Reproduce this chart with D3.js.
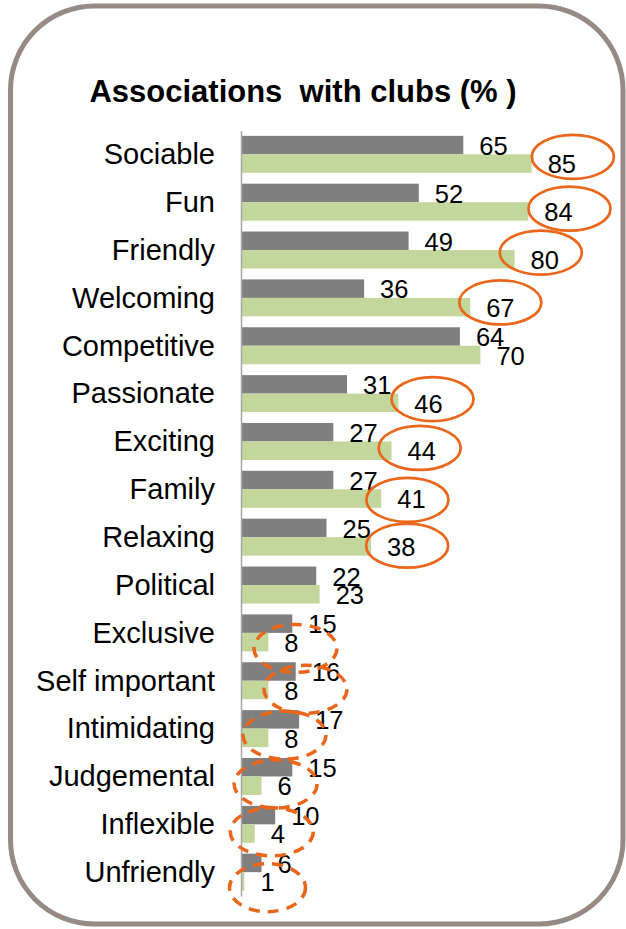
<!DOCTYPE html>
<html>
<head>
<meta charset="utf-8">
<script src="https://cdn.jsdelivr.net/npm/d3@7/dist/d3.min.js"></script>
<style>
  html, body { margin: 0; padding: 0; background: #fff; }
  svg { display: block; font-family: "Liberation Sans", Arial, sans-serif; }
</style>
</head>
<body>
<svg id="chart" width="626" height="929"></svg>
<script>
// Share of respondents associating each word with clubs (%)
const categories = ["Sociable", "Fun", "Friendly", "Welcoming", "Competitive", "Passionate",
  "Exciting", "Family", "Relaxing", "Political", "Exclusive", "Self important",
  "Intimidating", "Judgemental", "Inflexible", "Unfriendly"];
const greyValues  = [65, 52, 49, 36, 64, 31, 27, 27, 25, 22, 15, 16, 17, 15, 10, 6];
const greenValues = [85, 84, 80, 67, 70, 46, 44, 41, 38, 23, 8, 8, 8, 6, 4, 1];
const seriesKeys = ["grey", "green"];

// Hand-drawn rings around the green value labels (nudge from the label centre)
const ringsSolid = [
  { cat: "Sociable", dx: 11, dy: -7 }, { cat: "Fun", dx: 11, dy: -3 },
  { cat: "Friendly", dx: -4, dy: -7 }, { cat: "Welcoming", dx: 0, dy: -5 },
  { cat: "Passionate", dx: 4, dy: -4 }, { cat: "Exciting", dx: -2, dy: -3 },
  { cat: "Family", dx: -4, dy: 1 }, { cat: "Relaxing", dx: 6, dy: -1 }
];
const ringsDashed = [
  { cat: "Exclusive", dx: 4, dy: 6 }, { cat: "Self important", dx: 14, dy: -1 },
  { cat: "Intimidating", dx: -7, dy: -3 }, { cat: "Judgemental", dx: -9, dy: -2 },
  { cat: "Inflexible", dx: -6, dy: -2 }, { cat: "Unfriendly", dx: 0, dy: 6 }
];

const colors = { grey: "#7f7f7f", green: "#c3d69b" };
const ringColor = "#e9661a";

const svg = d3.select("#chart");

// Rounded frame
svg.append("rect")
  .attr("x", 10.5).attr("y", 6)
  .attr("width", 612.5).attr("height", 918)
  .attr("rx", 84).attr("ry", 84)
  .attr("fill", "#fff")
  .attr("stroke", "#978a84")
  .attr("stroke-width", 5);

// Title
svg.append("text")
  .attr("x", 303).attr("y", 102)
  .attr("text-anchor", "middle")
  .style("white-space", "pre")
  .attr("font-size", 31).attr("font-weight", "bold")
  .attr("fill", "#000")
  .text("Associations  with clubs (% )");

const x = d3.scaleLinear().domain([0, 100]).range([241, 583]);
const y = d3.scaleBand().domain(categories).range([130.4, 896.1])
  .paddingInner(0.227).paddingOuter(0.1135);
const ySub = d3.scaleBand().domain(seriesKeys).range([0, y.bandwidth()]);

const rows = categories.map((c, i) => ({ cat: c, grey: greyValues[i], green: greenValues[i] }));

const groups = svg.append("g").selectAll("g")
  .data(rows).join("g")
  .attr("transform", d => `translate(0,${y(d.cat)})`);

groups.selectAll("rect")
  .data(d => seriesKeys.map(k => ({ key: k, value: d[k] })))
  .join("rect")
  .attr("x", x(0))
  .attr("y", d => ySub(d.key))
  .attr("width", d => x(d.value) - x(0))
  .attr("height", ySub.bandwidth())
  .attr("fill", d => colors[d.key]);

// Category axis
const axis = svg.append("g")
  .attr("transform", `translate(${x(0)},0)`)
  .call(d3.axisLeft(y).tickSize(0).tickPadding(26));
axis.select(".domain").attr("stroke", "#a6a6a6").attr("stroke-width", 1.5);
axis.selectAll("text")
  .attr("font-family", "Liberation Sans, Arial, sans-serif")
  .attr("font-size", 29).attr("fill", "#000").attr("dy", "0.34em");

// Value labels
const labels = {};
groups.each(function (d) {
  const g = d3.select(this);
  labels[d.cat] = {};
  seriesKeys.forEach(k => {
    const t = g.append("text")
      .attr("x", x(d[k]) + 16)
      .attr("y", ySub(k) + ySub.bandwidth() + 0.5)
      .attr("font-size", 25.5).attr("fill", "#000")
      .text(d[k]);
    labels[d.cat][k] = t;
  });
});

// Rings around highlighted green labels
function ringCentre(r) {
  const node = labels[r.cat].green.node();
  const w = node.getComputedTextLength();
  const x0 = +node.getAttribute("x");
  return {
    cx: x0 + w / 2 + r.dx,
    cy: y(r.cat) + ySub("green") + ySub.bandwidth() - 9 + r.dy
  };
}

const rings = svg.append("g").attr("fill", "none").attr("stroke", ringColor);
rings.selectAll("ellipse.solid")
  .data(ringsSolid).join("ellipse")
  .attr("class", "solid")
  .each(function (r) {
    const c = ringCentre(r);
    d3.select(this).attr("cx", c.cx).attr("cy", c.cy);
  })
  .attr("rx", 41).attr("ry", 22)
  .attr("stroke-width", 2.7);

rings.selectAll("ellipse.dashed")
  .data(ringsDashed).join("ellipse")
  .attr("class", "dashed")
  .each(function (r) {
    const c = ringCentre(r);
    d3.select(this).attr("cx", c.cx).attr("cy", c.cy);
  })
  .attr("rx", d => d.cat === "Unfriendly" ? 38 : 41.5).attr("ry", 24)
  .attr("stroke-width", 3.5)
  .attr("stroke-dasharray", "11 8");
</script>
</body>
</html>
